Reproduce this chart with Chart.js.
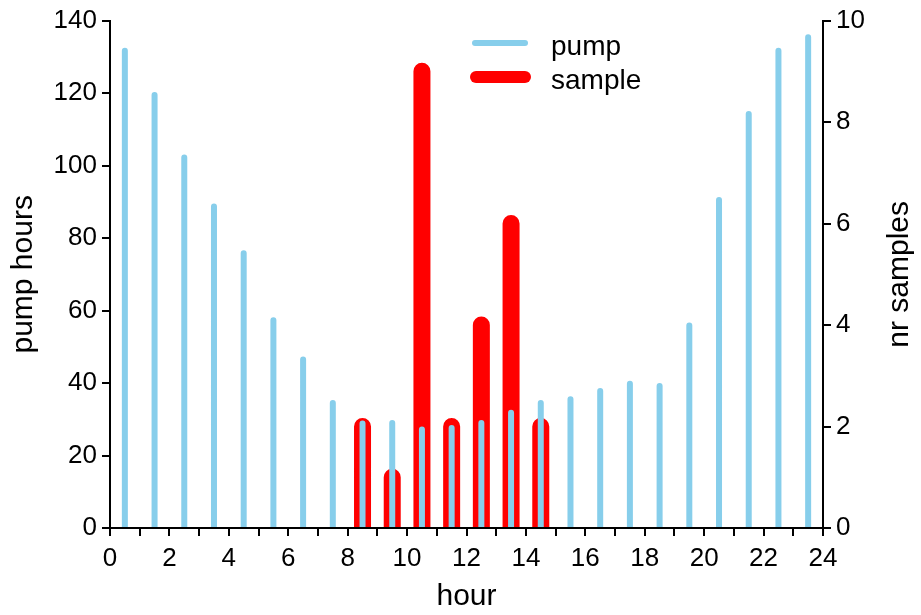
<!DOCTYPE html>
<html>
<head>
<meta charset="utf-8">
<script src="https://cdn.jsdelivr.net/npm/chart.js@4.4.1/dist/chart.umd.min.js"></script>
<style>
  html, body { margin: 0; padding: 0; background: #ffffff; }
  #wrap { width: 921px; height: 615px; }
</style>
</head>
<body>
<div id="wrap"><canvas id="c" width="921" height="615"></canvas></div>
<script>
// ---- data ----
const hours = [0.5, 1.5, 2.5, 3.5, 4.5, 5.5, 6.5, 7.5, 8.5, 9.5, 10.5, 11.5,
               12.5, 13.5, 14.5, 15.5, 16.5, 17.5, 18.5, 19.5, 20.5, 21.5, 22.5, 23.5];
const pumpHours = [131.7, 119.5, 102.2, 88.7, 75.8, 57.3, 46.5, 34.5, 28.8, 29.0, 27.2, 27.6,
                   29.0, 31.8, 34.5, 35.5, 37.8, 39.8, 39.2, 55.9, 90.5, 114.2, 131.7, 135.4];
const sampleHours = [8.5, 9.5, 10.5, 11.5, 12.5, 13.5, 14.5];
const sampleCounts = [2, 1, 9, 2, 4, 6, 2];
const xTicks = [0, 2, 4, 6, 8, 10, 12, 14, 16, 18, 20, 22, 24];
const leftTicks = [0, 20, 40, 60, 80, 100, 120, 140];
const rightTicks = [0, 2, 4, 6, 8, 10];
const seriesNames = ['pump', 'sample'];
const axisTitles = { x: 'hour', y: 'pump hours', y2: 'nr samples' };

// vertical stems (type="h" style) built from the arrays
function stems(xs, ys) {
  const pts = [];
  xs.forEach((x, i) => {
    pts.push({ x: x, y: 0 });
    pts.push({ x: x, y: ys[i] });
    pts.push({ x: x, y: null });
  });
  return pts;
}

const FONT = "'Liberation Sans', Arial, sans-serif";
const PUMP_COLOR = '#87CEEB';
const SAMPLE_COLOR = '#FF0000';

const overlay = {
  id: 'overlay',
  afterDraw(chart) {
    const ctx = chart.ctx;
    ctx.save();
    // legend
    ctx.lineCap = 'round';
    ctx.strokeStyle = PUMP_COLOR; ctx.lineWidth = 6;
    ctx.beginPath(); ctx.moveTo(475, 43); ctx.lineTo(525, 43); ctx.stroke();
    ctx.strokeStyle = SAMPLE_COLOR; ctx.lineWidth = 12;
    ctx.beginPath(); ctx.moveTo(476, 77); ctx.lineTo(525, 77); ctx.stroke();
    ctx.fillStyle = '#000';
    ctx.font = '28px ' + FONT;
    ctx.textAlign = 'left'; ctx.textBaseline = 'alphabetic';
    ctx.fillText(seriesNames[0], 551, 55);
    ctx.fillText(seriesNames[1], 551, 89);
    // right axis title (reads bottom to top)
    const area = chart.chartArea;
    ctx.translate(900, (area.top + area.bottom) / 2);
    ctx.rotate(-Math.PI / 2);
    ctx.font = '30px ' + FONT;
    ctx.textAlign = 'center'; ctx.textBaseline = 'middle';
    ctx.fillText(axisTitles.y2, 0, 0);
    ctx.restore();
  }
};

const axisGrid = { display: true, drawOnChartArea: false, drawTicks: true, tickLength: 8, color: '#000', lineWidth: 2, tickWidth: 2 };
const axisBorder = { display: true, color: '#000', width: 2 };
const tickFont = { family: FONT, size: 26 };
const titleFont = { family: FONT, size: 30 };

new Chart(document.getElementById('c'), {
  type: 'line',
  data: {
    datasets: [
      {
        label: seriesNames[0],
        data: stems(hours, pumpHours),
        yAxisID: 'y',
        borderColor: PUMP_COLOR,
        borderWidth: 6,
        borderCapStyle: 'round',
        pointRadius: 0,
        spanGaps: false,
        tension: 0,
        order: 0,
        clip: { left: false, right: false, top: false, bottom: -1 }
      },
      {
        label: seriesNames[1],
        data: stems(sampleHours, sampleCounts),
        yAxisID: 'y2',
        borderColor: SAMPLE_COLOR,
        borderWidth: 17,
        borderCapStyle: 'round',
        pointRadius: 0,
        spanGaps: false,
        tension: 0,
        order: 1,
        clip: { left: false, right: false, top: false, bottom: -1 }
      }
    ]
  },
  options: {
    responsive: false,
    animation: false,
    devicePixelRatio: 1,
    layout: { padding: { top: 20, left: 0, right: 0, bottom: 0 } },
    plugins: { legend: { display: false }, tooltip: { enabled: false } },
    scales: {
      x: {
        type: 'linear', position: 'bottom', min: 0, max: 24,
        afterFit(s) { s.height = 87; },
        grid: axisGrid, border: axisBorder,
        ticks: {
          stepSize: 1, autoSkip: false, maxRotation: 0, padding: 7,
          color: '#000', font: tickFont,
          callback: (v) => (xTicks.includes(v) ? String(v) : '')
        },
        title: { display: true, text: axisTitles.x, color: '#000', font: titleFont, padding: { top: 0, bottom: 0 } }
      },
      y: {
        type: 'linear', position: 'left', min: 0, max: 140,
        afterFit(s) { s.width = 110; },
        grid: axisGrid, border: axisBorder,
        ticks: {
          stepSize: 20, padding: 5, color: '#000', font: tickFont,
          callback: (v) => (leftTicks.includes(v) ? String(v) : '')
        },
        title: { display: true, text: axisTitles.y, color: '#000', font: titleFont, padding: { top: 6, bottom: 0 } }
      },
      y2: {
        type: 'linear', position: 'right', min: 0, max: 10,
        afterFit(s) { s.width = 98; },
        grid: axisGrid, border: axisBorder,
        ticks: {
          stepSize: 2, padding: 5, color: '#000', font: tickFont,
          callback: (v) => (rightTicks.includes(v) ? String(v) : '')
        }
      }
    }
  },
  plugins: [overlay]
});
</script>
</body>
</html>
